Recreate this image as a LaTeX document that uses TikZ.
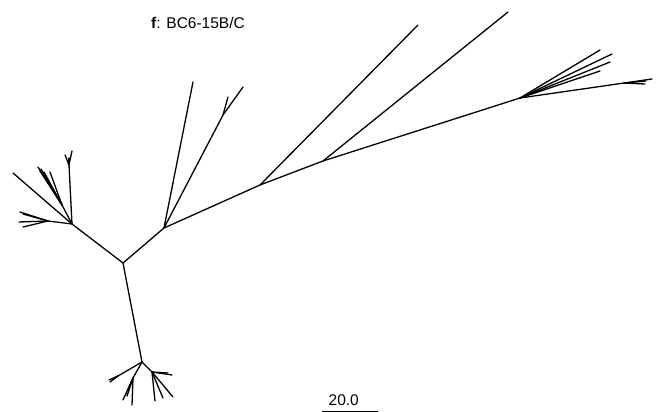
\documentclass[tikz,border=0pt]{standalone}
\usepackage{fontspec}
\setmainfont{Liberation Sans}
\begin{document}
\begin{tikzpicture}[x=1pt,y=-1pt,
  br/.style={line width=1.3pt,line cap=round,black},
  lbl/.style={font=\fontsize{15.5}{18}\selectfont,inner sep=0pt}]
\useasboundingbox (0,0) rectangle (662,412);
% backbone
\coordinate (R) at (123,263);
\coordinate (L) at (72,224);
\coordinate (B) at (142,362);
\coordinate (M1) at (164,228);
\coordinate (M2) at (260,185);
\coordinate (M3) at (323,161);
\coordinate (H) at (520,98);
\draw[br] (L) -- (R) -- (B);
\draw[br] (R) -- (M1) -- (M2) -- (M3) -- (H);
% M1 branches
\coordinate (m1a) at (193,82);
\coordinate (m1n) at (223,115);
\coordinate (m1b) at (243,87);
\coordinate (m1c) at (228,97);
\draw[br] (M1) -- (m1a);
\draw[br] (M1) -- (m1n) -- (m1b);
\draw[br] (m1n) -- (m1c);
% M2, M3 leaves
\coordinate (m2a) at (418,25);
\coordinate (m3a) at (508,12);
\draw[br] (M2) -- (m2a);
\draw[br] (M3) -- (m3a);
% right cluster
\foreach \n/\p in {h1/{600,50},h2/{612,54},h3/{610,62},h4/{600,71},h5/{652,79}}
  {\coordinate (\n) at (\p); \draw[br] (H) -- (\n);}
\coordinate (hn) at (624,83);
\foreach \n/\p in {hn1/{646,81},hn2/{645,84}}
  {\coordinate (\n) at (\p); \draw[br] (hn) -- (\n);}
% left cluster
\coordinate (l1) at (13,173);
\draw[br] (L) -- (l1);
\coordinate (lv) at (69,165);
\draw[br] (L) -- (lv);
\foreach \n/\p in {lv1/{65,155},lv2/{72,151},lv3/{69,158}}
  {\coordinate (\n) at (\p); \draw[br] (lv) -- (\n);}
\coordinate (lu) at (62,205);
\draw[br] (L) -- (lu);
\foreach \n/\p in {lu1/{38,167},lu2/{41,169},lu3/{44,172},lu4/{50,172},lu5/{40,171}}
  {\coordinate (\n) at (\p); \draw[br] (lu) -- (\n);}
\coordinate (ll) at (48,221);
\draw[br] (L) -- (ll);
\foreach \n/\p in {ll1/{20,212},ll2/{23,214},ll3/{19,222},ll4/{23,227}}
  {\coordinate (\n) at (\p); \draw[br] (ll) -- (\n);}
% bottom cluster
\coordinate (bl) at (118,376);
\draw[br] (B) -- (bl);
\foreach \n/\p in {bl1/{109,380},bl2/{110,382},bl3/{112,379}}
  {\coordinate (\n) at (\p); \draw[br] (bl) -- (\n);}
\coordinate (bd) at (133,378);
\draw[br] (B) -- (bd);
\foreach \n/\p in {bd1/{123,400},bd2/{127,396},bd3/{132,405},bd4/{128,390}}
  {\coordinate (\n) at (\p); \draw[br] (bd) -- (\n);}
\coordinate (br0) at (152,372);
\draw[br] (B) -- (br0);
\foreach \n/\p in {br1/{172,375},br2/{168,373},br3/{155,401},br4/{163,398},br5/{173,397}}
  {\coordinate (\n) at (\p); \draw[br] (br0) -- (\n);}
% title
\node[lbl,anchor=base west] (title) at (151,28.3) {\textbf{f}: BC6-15B/C};
% scale bar
\node[lbl,anchor=base east] (sclbl) at (359,405) {20.0};
\coordinate (s1) at (322,411);
\coordinate (s2) at (378,411);
\draw[line width=0.8pt] (s1) -- (s2);
\end{tikzpicture}
\end{document}
